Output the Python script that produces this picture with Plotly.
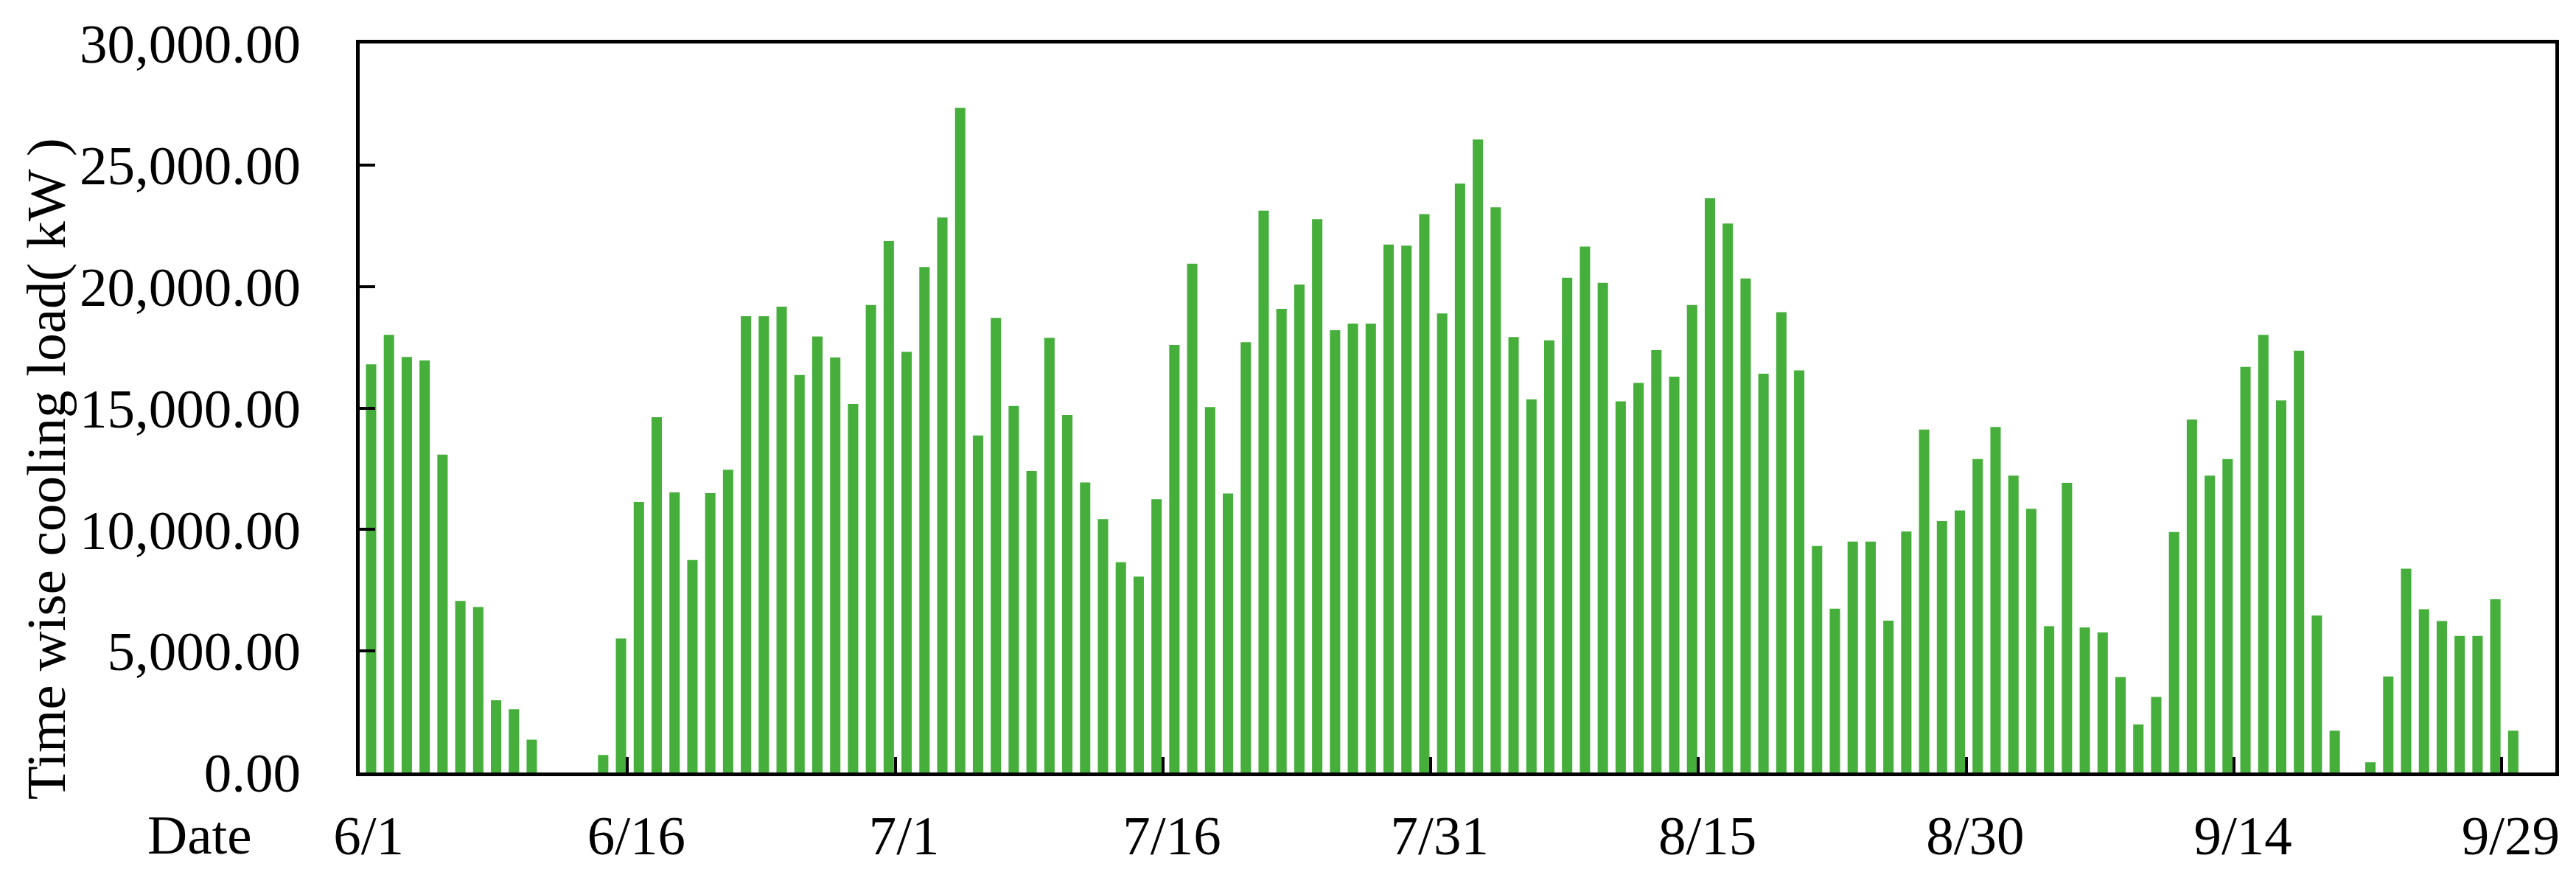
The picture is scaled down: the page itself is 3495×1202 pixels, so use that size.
import plotly.graph_objects as go
import pandas as pd

# ---------------- data ----------------
june = [16800, 18010, 17100, 16960, 13080, 7060, 6810, 2970, 2600, 1350,
        0, 0, 0, 720, 5510, 11130, 14620, 11530, 8740, 11500,
        12460, 18780, 18780, 19170, 16360, 17940, 17080, 15170, 19240, 21870]
july = [17310, 20800, 22840, 27350, 13870, 18710, 15080, 12410, 17890, 14710,
        11940, 10430, 8650, 8060, 11250, 17590, 20940, 15040, 11480, 17710,
        23120, 19080, 20080, 22770, 18200, 18470, 18470, 21730, 21680, 22980,
        18890]
august = [24240, 26050, 23260, 17920, 15360, 17780, 20360, 21640, 20150, 15270,
          16030, 17380, 16290, 19240, 23630, 22590, 20330, 16410, 18940, 16550,
          9320, 6740, 9500, 9500, 6250, 9920, 14110, 10340, 10780, 12900,
          14220]
september = [12220, 10850, 6020, 11920, 5970, 5760, 3930, 1980, 3110, 9900,
             14520, 12220, 12900, 16690, 18010, 15310, 17360, 6460, 1720, 0,
             420, 3950, 8390, 6720, 6230, 5620, 5620, 7130, 1720]

loads = june + july + august + september
tick_labels = ["6/1", "6/16", "7/1", "7/16", "7/31", "8/15", "8/30", "9/14", "9/29"]
y_ticks = [0, 5000, 10000, 15000, 20000, 25000, 30000]
y_title = "Time wise cooling load( kW )"
x_title = "Date"
axis_end = "10/1"   # the category axis runs on to 10/1 (no data after 9/29)

# ---------------- derived ----------------
axis_days_all = pd.date_range("2021-06-01", "2021-10-01", freq="D")
axis_labels = [f"{d.month}/{d.day}" for d in axis_days_all]
n_axis = axis_labels.index(axis_end) + 1
day_labels = axis_labels[:len(loads)]
x_idx = list(range(len(loads)))
tick_idx = [axis_labels.index(t) for t in tick_labels]
boundary_ticks = [i - 0.5 for i in tick_idx[1:]]

W, H = 3495, 1202
L, R, T, B = 488, 3467, 59, 1048
FONT = "Liberation Serif"
FS = 75
GREEN = "#46AF3C"


def px_to_paper(px, py):
    return (px - L) / (R - L), (B - py) / (B - T)


fig = go.Figure()
fig.add_trace(go.Bar(
    x=x_idx, y=loads, width=0.58, offset=-0.15,
    marker=dict(color=GREEN, line=dict(width=0)),
    customdata=day_labels,
    hovertemplate="%{customdata}: %{y:,.2f} kW<extra></extra>",
    showlegend=False,
))

xr = [-0.5, n_axis - 0.5]
fig.update_layout(
    width=W, height=H, autosize=False,
    margin=dict(l=L, r=W - R, t=T, b=H - B, pad=0),
    paper_bgcolor="white", plot_bgcolor="white",
    font=dict(family=FONT, size=FS, color="black"),
    xaxis=dict(
        type="linear", range=xr, tickmode="array",
        tickvals=tick_idx, ticktext=tick_labels,
        ticks="", showline=True, linewidth=5, linecolor="black", mirror=True,
        showgrid=False, zeroline=False,
        tickfont=dict(family=FONT, size=FS, color="black"),
        ticklabelstandoff=16,
        minor=dict(tickmode="array", tickvals=boundary_ticks, ticks="inside",
                   ticklen=21, tickwidth=4, tickcolor="black", showgrid=False),
    ),
    yaxis=dict(
        range=[0, 30000], tickmode="array", tickvals=y_ticks, tickformat=",.2f",
        ticks="inside", ticklen=21, tickwidth=4, tickcolor="black",
        showline=True, linewidth=5, linecolor="black", mirror=True,
        showgrid=False, zeroline=False,
        tickfont=dict(family=FONT, size=FS, color="black"),
        ticklabelstandoff=60,
    ),
)

ytx, yty = px_to_paper(62, 636)
dtx, dty = px_to_paper(271, 1132)
fig.add_annotation(text=y_title, xref="paper", yref="paper", x=ytx, y=yty,
                   xanchor="center", yanchor="middle", textangle=-90,
                   showarrow=False, font=dict(family=FONT, size=FS, color="black"))
fig.add_annotation(text=x_title, xref="paper", yref="paper", x=dtx, y=dty,
                   xanchor="center", yanchor="middle",
                   showarrow=False, font=dict(family=FONT, size=FS, color="black"))

fig.write_html("out.html", config={"displayModeBar": False},
               post_script="document.body.style.margin='0px';")
